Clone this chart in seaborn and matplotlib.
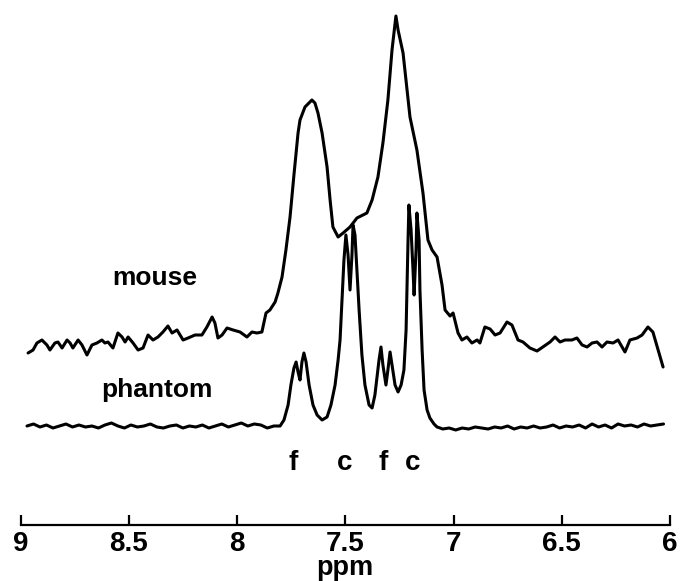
import numpy as np
import pandas as pd
import matplotlib
matplotlib.use("Agg")
import matplotlib.pyplot as plt
import seaborn as sns

# ---------------- data ----------------
mouse_ppm = [8.965, 8.942, 8.924, 8.901, 8.878, 8.864, 8.841, 8.827, 8.808, 8.785,
             8.771, 8.758, 8.734, 8.716, 8.693, 8.670, 8.647, 8.624, 8.610, 8.596,
             8.573, 8.550, 8.531, 8.517, 8.503, 8.480, 8.457, 8.434, 8.411, 8.388,
             8.365, 8.342, 8.319, 8.300, 8.277, 8.249, 8.226, 8.194, 8.162, 8.139,
             8.115, 8.102, 8.088, 8.069, 8.046, 8.018, 7.986, 7.954, 7.931, 7.908,
             7.885, 7.866, 7.848, 7.824, 7.811, 7.792, 7.774, 7.755, 7.737, 7.718,
             7.709, 7.686, 7.654, 7.640, 7.626, 7.607, 7.584, 7.570, 7.557, 7.533,
             7.510, 7.478, 7.446, 7.400, 7.376, 7.349, 7.326, 7.303, 7.284, 7.266,
             7.256, 7.233, 7.201, 7.169, 7.141, 7.118, 7.099, 7.076, 7.053, 7.039,
             7.016, 7.002, 6.979, 6.961, 6.938, 6.915, 6.891, 6.878, 6.855, 6.831,
             6.808, 6.785, 6.753, 6.730, 6.702, 6.679, 6.647, 6.614, 6.587, 6.554,
             6.531, 6.508, 6.485, 6.453, 6.430, 6.406, 6.383, 6.360, 6.337, 6.314,
             6.291, 6.263, 6.240, 6.208, 6.185, 6.152, 6.129, 6.102, 6.079, 6.032]
mouse_int = [172, 175, 182, 185, 180, 175, 182, 183, 177, 185,
             182, 177, 185, 180, 170, 180, 182, 185, 182, 183,
             177, 192, 188, 183, 188, 182, 175, 177, 190, 185,
             188, 193, 199, 192, 195, 185, 187, 190, 190, 198,
             208, 202, 187, 190, 197, 195, 193, 188, 193, 192,
             193, 212, 215, 223, 232, 248, 275, 308, 350, 392,
             405, 418, 425, 422, 412, 392, 358, 325, 298, 288,
             292, 298, 307, 312, 325, 348, 382, 425, 475, 509,
             495, 472, 408, 375, 332, 285, 275, 268, 240, 215,
             209, 212, 192, 185, 188, 182, 185, 182, 198, 196,
             190, 192, 203, 200, 185, 183, 177, 174, 178, 183,
             188, 183, 185, 185, 187, 180, 178, 182, 183, 178,
             183, 182, 185, 173, 185, 187, 190, 198, 193, 158]

phantom_ppm = [8.97, 8.94, 8.91, 8.88, 8.85, 8.82, 8.79, 8.76, 8.73, 8.70,
               8.67, 8.64, 8.61, 8.58, 8.55, 8.52, 8.49, 8.46, 8.43, 8.40,
               8.37, 8.34, 8.31, 8.28, 8.25, 8.22, 8.19, 8.16, 8.13, 8.10,
               8.07, 8.04, 8.01, 7.98, 7.95, 7.92, 7.89, 7.86, 7.83,
               7.801, 7.783, 7.764, 7.751, 7.737, 7.727, 7.718, 7.709, 7.700, 7.691,
               7.681, 7.667, 7.649, 7.630, 7.607, 7.584, 7.566, 7.547, 7.533, 7.524,
               7.515, 7.506, 7.497, 7.487, 7.478, 7.469, 7.464, 7.455, 7.446, 7.436,
               7.423, 7.409, 7.390, 7.376, 7.363, 7.353, 7.344, 7.335, 7.326, 7.312,
               7.303, 7.293, 7.284, 7.270, 7.256, 7.242, 7.229, 7.219, 7.215, 7.210,
               7.206, 7.196, 7.187, 7.182, 7.173, 7.169, 7.159, 7.155, 7.145, 7.136,
               7.122, 7.109, 7.090, 7.076, 7.062,
               7.05, 7.02, 6.99, 6.96, 6.93, 6.90, 6.87, 6.84, 6.81, 6.78,
               6.75, 6.72, 6.69, 6.66, 6.63, 6.60, 6.57, 6.54, 6.51, 6.48,
               6.45, 6.42, 6.39, 6.36, 6.33, 6.30, 6.27, 6.24, 6.21, 6.18,
               6.15, 6.12, 6.09, 6.06, 6.03]
phantom_int = [99, 101, 98, 100, 97, 99, 101, 98, 100, 98,
               99, 97, 100, 102, 99, 97, 100, 98, 99, 101,
               98, 97, 99, 100, 97, 99, 98, 100, 97, 99,
               101, 98, 100, 102, 99, 101, 100, 97, 99,
               99, 105, 120, 140, 157, 163, 153, 145, 163, 172,
               163, 140, 120, 110, 105, 108, 120, 140, 165, 185,
               225, 265, 290, 270, 235, 270, 300, 290, 255, 215,
               170, 140, 120, 117, 130, 148, 165, 178, 160, 140,
               155, 173, 160, 140, 133, 140, 155, 195, 235, 285,
               320, 295, 255, 230, 275, 312, 285, 235, 175, 135,
               115, 107, 101, 98, 97,
               96, 97, 95, 97, 96, 98, 97, 96, 98, 97,
               99, 96, 98, 97, 99, 97, 98, 100, 97, 99,
               98, 100, 97, 101, 98, 100, 97, 101, 99, 100,
               98, 101, 99, 100, 101]

tick_values = [9, 8.5, 8, 7.5, 7, 6.5, 6]
tick_labels = ["9", "8.5", "8", "7.5", "7", "6.5", "6"]

trace_names = ["mouse", "phantom"]
trace_label_ppm = [8.379, 8.370]
trace_label_int = [247, 135]

peak_letters = ["f", "c", "f", "c"]
peak_ppm = [7.741, 7.501, 7.326, 7.187]
peak_label_int = 62

# ---------------- plot ----------------
sns.set_theme(style="white")
plt.rcParams['font.family'] = ['Liberation Sans', 'DejaVu Sans']

df = pd.concat([
    pd.DataFrame({"ppm": mouse_ppm, "intensity": mouse_int, "trace": "mouse"}),
    pd.DataFrame({"ppm": phantom_ppm, "intensity": phantom_int, "trace": "phantom"}),
])

fig = plt.figure(figsize=(6.81, 5.81), dpi=100)
ax = fig.add_axes([20.5 / 681, 56 / 581, (670 - 20.5) / 681, 520 / 581])

sns.lineplot(data=df, x="ppm", y="intensity", units="trace", estimator=None,
             color="black", linewidth=2.2, ax=ax, legend=False)

ax.set_xlim(9, 6)
ax.set_ylim(0, 520)

for s in ["top", "left", "right"]:
    ax.spines[s].set_visible(False)
ax.spines["bottom"].set_color("black")
ax.spines["bottom"].set_linewidth(1.6)

ax.set_yticks([])
ax.set_xticks(tick_values)
ax.set_xticklabels(tick_labels, fontweight="bold")
ax.tick_params(axis="x", direction="in", length=7, width=1.6, colors="black",
               labelsize=20, pad=4, bottom=True)
ax.set_xlabel("ppm", fontsize=19.5, fontweight="bold", labelpad=-1, color="black")
ax.set_ylabel("")

for name, xp, yp in zip(trace_names, trace_label_ppm, trace_label_int):
    ax.text(xp, yp, name, fontsize=19, fontweight="bold", ha="center", va="center",
            color="black")

for letter, xp in zip(peak_letters, peak_ppm):
    ax.text(xp, peak_label_int, letter, fontsize=20, fontweight="bold", ha="center",
            va="center", color="black")

fig.savefig("out.png", dpi=100)
